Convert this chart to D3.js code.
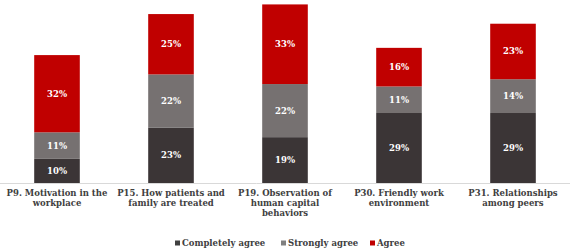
<!DOCTYPE html>
<html>
<head>
<meta charset="utf-8">
<script src="https://cdn.jsdelivr.net/npm/d3@7"></script>
<style>
  body { margin: 0; background: #fff; }
  text { font-family: "DejaVu Serif", serif; font-weight: bold; }
</style>
</head>
<body>
<div id="chart"></div>
<script>
const categories = [
  "P9. Motivation in the workplace",
  "P15. How patients and family are treated",
  "P19. Observation of human capital behaviors",
  "P30. Friendly work environment",
  "P31. Relationships among peers"
];
const completelyAgree = [10, 23, 19, 29, 29];
const stronglyAgree = [11, 22, 22, 11, 14];
const agree = [32, 25, 33, 16, 23];
const seriesNames = ["Completely agree", "Strongly agree", "Agree"];
const colors = ["#3b3536", "#767171", "#c00000"];
const legendColors = ["#404040", "#808080", "#c00000"];

const width = 579;
const height = 251;
const baseline = 183;

const data = categories.map((c, i) => ({
  cat: c,
  "Completely agree": completelyAgree[i],
  "Strongly agree": stronglyAgree[i],
  "Agree": agree[i]
}));

const svg = d3.select("#chart")
  .append("svg")
  .attr("width", width)
  .attr("height", height);

const x = d3.scaleBand()
  .domain(categories)
  .range([0, 570])
  .paddingInner(0.6)
  .paddingOuter(0.3);

const y = d3.scaleLinear()
  .domain([0, 75])
  .range([baseline, 2]);

const color = d3.scaleOrdinal().domain(seriesNames).range(colors);

const stack = d3.stack().keys(seriesNames)(data);

const layers = svg.append("g")
  .selectAll("g")
  .data(stack)
  .join("g")
  .attr("fill", d => color(d.key));

layers.selectAll("rect")
  .data(d => d)
  .join("rect")
  .attr("x", d => x(d.data.cat))
  .attr("y", d => y(d[1]))
  .attr("height", d => y(d[0]) - y(d[1]))
  .attr("width", x.bandwidth());

layers.selectAll("text")
  .data(d => d)
  .join("text")
  .attr("x", d => x(d.data.cat) + x.bandwidth() / 2)
  .attr("y", d => (y(d[0]) + y(d[1])) / 2)
  .attr("dy", "0.35em")
  .attr("text-anchor", "middle")
  .attr("fill", "#fff")
  .style("font-size", "8.5px")
  .text(d => `${d[1] - d[0]}%`);

// axis line
svg.append("line")
  .attr("x1", 0).attr("x2", 570)
  .attr("y1", baseline + 0.5).attr("y2", baseline + 0.5)
  .attr("stroke", "#d9d9d9");

// category labels, wrapped
function wrap(str, maxW, size) {
  const words = str.split(" ");
  const lines = [];
  let line = "";
  const tmp = svg.append("text").style("font-size", size + "px");
  words.forEach(w => {
    const test = line ? line + " " + w : w;
    tmp.text(test);
    if (tmp.node().getComputedTextLength() > maxW && line) {
      lines.push(line);
      line = w;
    } else {
      line = test;
    }
  });
  lines.push(line);
  tmp.remove();
  return lines;
}

categories.forEach(c => {
  const lines = wrap(c, 108, 8.5);
  const t = svg.append("text")
    .attr("x", x(c) + x.bandwidth() / 2)
    .attr("y", baseline + 13)
    .attr("text-anchor", "middle")
    .attr("fill", "#404040")
    .style("font-size", "8.5px");
  lines.forEach((l, i) => {
    t.append("tspan")
      .attr("x", x(c) + x.bandwidth() / 2)
      .attr("dy", i === 0 ? 0 : 10)
      .text(l);
  });
});

// legend
const legendX = [175, 281, 370];
seriesNames.forEach((s, i) => {
  const g = svg.append("g").attr("transform", `translate(${legendX[i]},243)`);
  g.append("rect").attr("x", 0).attr("y", -2.5).attr("width", 5).attr("height", 5).attr("fill", legendColors[i]);
  g.append("text").attr("x", 7).attr("y", 0).attr("dy", "0.35em")
    .attr("fill", "#404040").style("font-size", "8.5px").text(s);
});
</script>
</body>
</html>
